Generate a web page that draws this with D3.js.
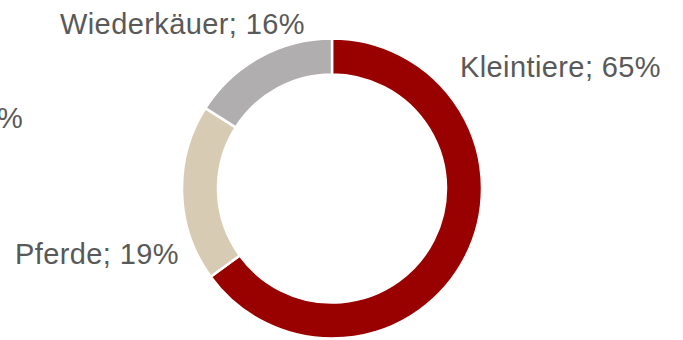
<!DOCTYPE html>
<html>
<head>
<meta charset="utf-8">
<script src="https://cdn.jsdelivr.net/npm/d3@7"></script>
<style>
  html, body { margin: 0; padding: 0; background: #fff; }
  svg { display: block; }
  text { font-family: "Liberation Sans", Arial, sans-serif; fill: #595959; }
</style>
</head>
<body>
<svg id="chart" width="683" height="340"></svg>
<script>
// Anteile der Patienten nach Tierart
const categories = ["Kleintiere", "Pferde", "Wiederkäuer"];
const shares = [65, 19, 16];
const colors = ["#990000", "#D8CBB3", "#B0AEAE"];

// Label placement (text start x, baseline y) per category
const labelAnchors = [[460, 77], [15, 264], [60, 34]];

const cx = 332, cy = 188.5, rOuter = 150, rInner = 114;

const svg = d3.select("#chart");

const pie = d3.pie().sort(null).value(d => d.value);
const arcs = pie(categories.map((c, i) => ({ name: c, value: shares[i] })));
const arc = d3.arc().innerRadius(rInner).outerRadius(rOuter);

const g = svg.append("g").attr("transform", `translate(${cx},${cy})`);
g.selectAll("path")
  .data(arcs)
  .join("path")
  .attr("d", arc)
  .attr("fill", (d, i) => colors[i])
  .attr("stroke", "#fff")
  .attr("stroke-width", 2.5);

svg.selectAll("text.lbl")
  .data(arcs)
  .join("text")
  .attr("class", "lbl")
  .attr("x", (d, i) => labelAnchors[i][0])
  .attr("y", (d, i) => labelAnchors[i][1])
  .attr("font-size", 29)
  .attr("letter-spacing", 0.4)
  .text(d => `${d.data.name}; ${d.data.value}%`);

// trailing piece of a neighbouring label at the left edge
svg.append("text")
  .attr("x", -3).attr("y", 128)
  .attr("font-size", 29)
  .text("%");
</script>
</body>
</html>
